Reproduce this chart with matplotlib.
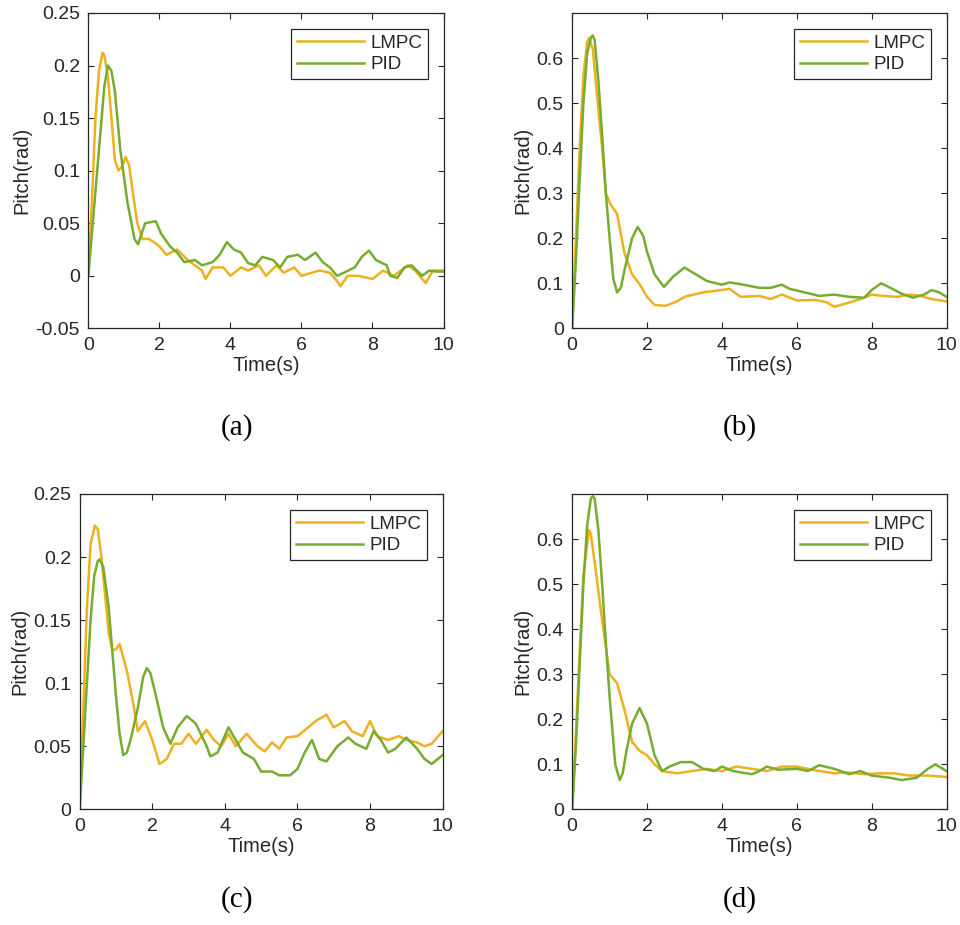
import numpy as np
import matplotlib
matplotlib.use("Agg")
import matplotlib.pyplot as plt
from matplotlib.ticker import FuncFormatter

plt.rcParams['font.family'] = ['Liberation Sans', 'DejaVu Sans']

# ---- panel (a) ----
t_a_lmpc = [0, 0.1, 0.2, 0.3, 0.4, 0.45, 0.55, 0.65, 0.75, 0.85, 0.95, 1.05, 1.15, 1.25, 1.38, 1.52,
            1.7, 1.85, 2.0, 2.2, 2.5, 2.8, 3.0, 3.2, 3.3, 3.5, 3.8, 4.0, 4.3, 4.5, 4.8, 5.0, 5.3, 5.5,
            5.8, 6.0, 6.5, 6.8, 7.0, 7.1, 7.3, 7.6, 8.0, 8.3, 8.6, 9.0, 9.2, 9.5, 9.7, 10]
a_lmpc = [0, 0.07, 0.15, 0.195, 0.212, 0.21, 0.19, 0.15, 0.11, 0.1, 0.104, 0.113, 0.105, 0.08, 0.05, 0.035,
          0.035, 0.032, 0.028, 0.02, 0.025, 0.015, 0.01, 0.005, -0.003, 0.008, 0.008, 0.0, 0.008, 0.005,
          0.01, 0.0, 0.01, 0.003, 0.008, 0.0, 0.005, 0.003, -0.005, -0.01, 0.0, 0.0, -0.003, 0.005, 0.0,
          0.01, 0.005, -0.007, 0.005, 0.005]
t_a_pid = [0, 0.15, 0.3, 0.45, 0.55, 0.65, 0.75, 0.9, 1.1, 1.3, 1.4, 1.5, 1.6, 1.9, 2.05, 2.3, 2.5, 2.7,
           3.0, 3.2, 3.5, 3.7, 3.9, 4.1, 4.3, 4.5, 4.7, 4.9, 5.2, 5.4, 5.6, 5.9, 6.1, 6.4, 6.6, 6.8, 7.0,
           7.2, 7.5, 7.7, 7.9, 8.1, 8.4, 8.5, 8.7, 8.9, 9.1, 9.4, 9.6, 9.8, 10]
a_pid = [0, 0.06, 0.12, 0.18, 0.2, 0.195, 0.175, 0.12, 0.07, 0.035, 0.03, 0.04, 0.05, 0.052, 0.04, 0.028,
         0.022, 0.013, 0.015, 0.01, 0.013, 0.02, 0.032, 0.025, 0.022, 0.012, 0.01, 0.018, 0.015, 0.008,
         0.018, 0.02, 0.015, 0.022, 0.013, 0.008, 0.0, 0.003, 0.008, 0.018, 0.024, 0.015, 0.01, 0.0,
         -0.002, 0.008, 0.01, 0.0, 0.005, 0.004, 0.004]

# ---- panel (b) ----
t_b_lmpc = [0, 0.1, 0.2, 0.3, 0.4, 0.45, 0.55, 0.65, 0.8, 0.9, 1.02, 1.2, 1.4, 1.6, 1.8, 2.0, 2.2, 2.5,
            2.8, 3.0, 3.5, 4.0, 4.2, 4.5, 5.0, 5.3, 5.6, 6.0, 6.5, 6.8, 7.0, 7.3, 7.7, 8.0, 8.3, 8.7,
            9.0, 9.3, 9.6, 10]
b_lmpc = [0, 0.2, 0.4, 0.56, 0.635, 0.645, 0.62, 0.53, 0.4, 0.3, 0.276, 0.254, 0.166, 0.12, 0.098, 0.07,
          0.052, 0.05, 0.06, 0.07, 0.08, 0.085, 0.088, 0.07, 0.072, 0.065, 0.075, 0.062, 0.063, 0.058,
          0.048, 0.055, 0.065, 0.075, 0.072, 0.07, 0.075, 0.072, 0.065, 0.06]
t_b_pid = [0, 0.1, 0.2, 0.3, 0.4, 0.5, 0.55, 0.6, 0.7, 0.8, 0.9, 1.0, 1.1, 1.2, 1.3, 1.4, 1.6, 1.75, 1.9,
           2.0, 2.2, 2.45, 2.7, 3.0, 3.3, 3.6, 4.0, 4.2, 4.5, 5.0, 5.3, 5.6, 5.8, 6.2, 6.6, 7.0, 7.4,
           7.8, 8.0, 8.25, 8.5, 8.8, 9.1, 9.4, 9.6, 9.8, 10]
b_pid = [0, 0.15, 0.33, 0.5, 0.61, 0.645, 0.65, 0.64, 0.55, 0.43, 0.3, 0.2, 0.11, 0.08, 0.09, 0.13, 0.2,
         0.225, 0.205, 0.17, 0.12, 0.092, 0.115, 0.135, 0.12, 0.105, 0.097, 0.102, 0.098, 0.09, 0.09,
         0.097, 0.088, 0.08, 0.072, 0.075, 0.07, 0.068, 0.085, 0.1, 0.09, 0.077, 0.068, 0.075, 0.085,
         0.08, 0.07]

# ---- panel (c) ----
t_c_lmpc = [0, 0.1, 0.2, 0.3, 0.42, 0.5, 0.6, 0.7, 0.8, 0.9, 1.0, 1.1, 1.3, 1.5, 1.6, 1.8, 2.0, 2.2,
            2.4, 2.6, 2.8, 3.0, 3.2, 3.5, 3.7, 3.9, 4.1, 4.3, 4.6, 4.9, 5.1, 5.3, 5.5, 5.7, 6.0, 6.3,
            6.5, 6.8, 7.0, 7.3, 7.5, 7.8, 8.0, 8.2, 8.5, 8.8, 9.0, 9.3, 9.5, 9.7, 10]
c_lmpc = [0, 0.08, 0.16, 0.21, 0.225, 0.222, 0.2, 0.17, 0.14, 0.126, 0.127, 0.131, 0.11, 0.08, 0.062,
          0.07, 0.055, 0.036, 0.04, 0.052, 0.052, 0.06, 0.052, 0.063, 0.055, 0.05, 0.06, 0.05, 0.06,
          0.05, 0.046, 0.053, 0.048, 0.057, 0.058, 0.065, 0.07, 0.075, 0.065, 0.07, 0.062, 0.058, 0.07,
          0.058, 0.055, 0.058, 0.055, 0.053, 0.05, 0.052, 0.062]
t_c_pid = [0, 0.1, 0.2, 0.3, 0.4, 0.5, 0.55, 0.65, 0.8, 1.0, 1.1, 1.2, 1.3, 1.4, 1.6, 1.75, 1.85, 1.95,
           2.1, 2.3, 2.5, 2.7, 2.95, 3.2, 3.5, 3.6, 3.8, 4.1, 4.3, 4.5, 4.8, 5.0, 5.3, 5.5, 5.8, 6.0,
           6.2, 6.4, 6.6, 6.8, 7.1, 7.4, 7.6, 7.9, 8.1, 8.3, 8.5, 8.7, 9.0, 9.3, 9.5, 9.7, 10]
c_pid = [0, 0.05, 0.1, 0.15, 0.185, 0.197, 0.198, 0.192, 0.16, 0.09, 0.06, 0.043, 0.045, 0.055, 0.08,
         0.105, 0.112, 0.108, 0.09, 0.065, 0.052, 0.065, 0.074, 0.068, 0.05, 0.042, 0.045, 0.065, 0.055,
         0.045, 0.04, 0.03, 0.03, 0.027, 0.027, 0.032, 0.045, 0.055, 0.04, 0.038, 0.05, 0.057, 0.052,
         0.048, 0.062, 0.055, 0.045, 0.048, 0.057, 0.048, 0.04, 0.036, 0.043]

# ---- panel (d) ----
t_d_lmpc = [0, 0.1, 0.2, 0.3, 0.45, 0.5, 0.6, 0.8, 1.0, 1.2, 1.4, 1.6, 1.8, 2.0, 2.2, 2.4, 2.8, 3.2,
            3.6, 4.0, 4.4, 4.8, 5.2, 5.6, 6.0, 6.4, 7.0, 7.4, 7.8, 8.2, 8.6, 9.0, 9.5, 10]
d_lmpc = [0, 0.17, 0.35, 0.52, 0.62, 0.61, 0.55, 0.42, 0.3, 0.28, 0.22, 0.15, 0.13, 0.12, 0.1, 0.085,
          0.08, 0.085, 0.09, 0.085, 0.095, 0.09, 0.085, 0.095, 0.095, 0.088, 0.08, 0.082, 0.078, 0.08,
          0.08, 0.075, 0.075, 0.072]
t_d_pid = [0, 0.1, 0.2, 0.3, 0.4, 0.5, 0.55, 0.6, 0.7, 0.8, 0.9, 1.0, 1.15, 1.27, 1.35, 1.45, 1.6, 1.8,
           2.0, 2.2, 2.4, 2.6, 2.9, 3.2, 3.5, 3.8, 4.0, 4.3, 4.8, 5.0, 5.2, 5.5, 6.0, 6.3, 6.6, 7.0,
           7.4, 7.7, 8.0, 8.5, 8.8, 9.2, 9.5, 9.7, 10]
d_pid = [0, 0.14, 0.32, 0.5, 0.63, 0.69, 0.695, 0.69, 0.62, 0.5, 0.37, 0.25, 0.1, 0.065, 0.08, 0.13,
         0.19, 0.225, 0.19, 0.12, 0.085, 0.095, 0.105, 0.105, 0.09, 0.085, 0.095, 0.085, 0.078, 0.085,
         0.095, 0.088, 0.09, 0.085, 0.098, 0.09, 0.078, 0.085, 0.075, 0.07, 0.065, 0.07, 0.09, 0.1,
         0.085]

panels = [
    ("(a)", t_a_lmpc, a_lmpc, t_a_pid, a_pid, (-0.05, 0.25), np.arange(-0.05, 0.2501, 0.05)),
    ("(b)", t_b_lmpc, b_lmpc, t_b_pid, b_pid, (0, 0.7), np.arange(0, 0.61, 0.1)),
    ("(c)", t_c_lmpc, c_lmpc, t_c_pid, c_pid, (0, 0.25), np.arange(0, 0.2501, 0.05)),
    ("(d)", t_d_lmpc, d_lmpc, t_d_pid, d_pid, (0, 0.7), np.arange(0, 0.61, 0.1)),
]

# axes rectangles in figure fractions
rects = [
    [0.092, 0.645, 0.370, 0.341],
    [0.596, 0.645, 0.390, 0.341],
    [0.083, 0.125, 0.378, 0.341],
    [0.596, 0.125, 0.390, 0.341],
]
caption_pos = [(0.247, 0.538), (0.771, 0.538), (0.247, 0.027), (0.771, 0.027)]

lmpc_color = '#EDB120'
pid_color = '#77AC30'
txt = '#262626'

fig = plt.figure(figsize=(9.6, 9.25), dpi=100)

for (cap, tl, yl, tp, yp, ylim, yticks), rect, cpos in zip(panels, rects, caption_pos):
    ax = fig.add_axes(rect)
    ax.plot(tl, yl, color=lmpc_color, lw=1.8, label='LMPC')
    ax.plot(tp, yp, color=pid_color, lw=1.8, label='PID')
    ax.set_xlim(0, 10)
    ax.set_ylim(*ylim)
    ax.set_xticks([0, 2, 4, 6, 8, 10])
    ax.set_yticks(yticks)
    ax.yaxis.set_major_formatter(FuncFormatter(lambda v, p: '%g' % round(v, 3)))
    ax.tick_params(direction='in', top=True, right=True, length=4, width=0.8,
                   labelsize=14, colors=txt, pad=6)
    for s in ax.spines.values():
        s.set_color(txt)
        s.set_linewidth(0.9)
    ax.set_xlabel('Time(s)', fontsize=14.5, color=txt, labelpad=2)
    ax.set_ylabel('Pitch(rad)', fontsize=14.5, color=txt, labelpad=3)
    leg = ax.legend(loc='upper right', fontsize=13.5, handlelength=3.6, handletextpad=0.3,
                    borderpad=0.3, labelspacing=0.25, fancybox=False, framealpha=1,
                    borderaxespad=0.85)
    leg.get_frame().set_edgecolor(txt)
    leg.get_frame().set_linewidth(0.9)
    for t in leg.get_texts():
        t.set_color(txt)
    fig.text(cpos[0], cpos[1], cap, ha='center', va='center', fontsize=21,
             family='Liberation Serif', color='black')

fig.savefig('out.png', dpi=100)
